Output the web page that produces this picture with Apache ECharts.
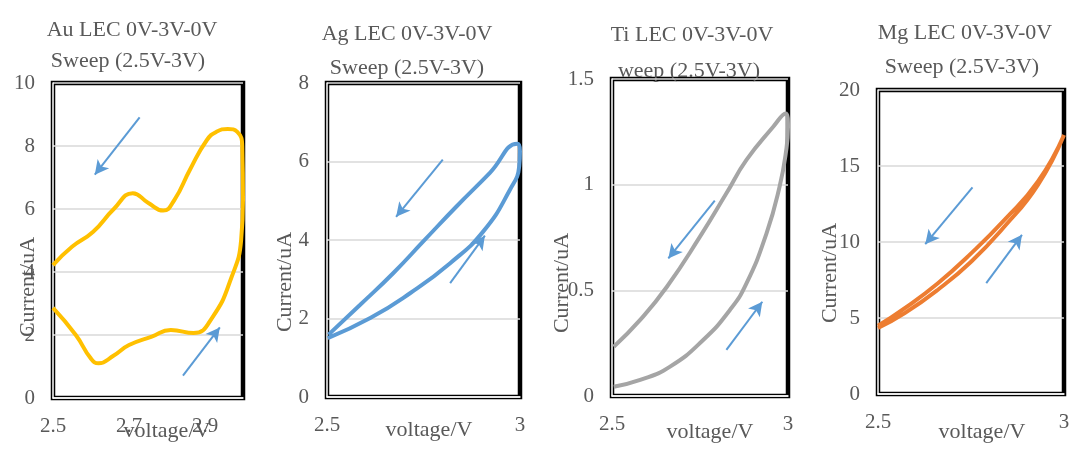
<!DOCTYPE html>
<html>
<head>
<meta charset="utf-8">
<script src="https://cdn.jsdelivr.net/npm/echarts@6/dist/echarts.min.js"></script>
<style>
  html, body { margin: 0; padding: 0; background: #fff; }
  #main { width: 1073px; height: 451px; }
</style>
</head>
<body>
<div id="main"></div>
<script>
// forward sweep (lower branch) then reverse sweep (upper branch)
var auVoltage = [2.50, 2.56, 2.60, 2.62, 2.66, 2.70, 2.76, 2.81, 2.87, 2.92, 2.97, 2.995, 3.00, 2.998, 2.985, 2.96, 2.93, 2.905, 2.86, 2.82, 2.79, 2.75, 2.71, 2.66, 2.605, 2.55, 2.50];
var auCurrent = [2.86, 2.00, 1.25, 1.10, 1.35, 1.68, 1.95, 2.16, 2.06, 2.57, 3.84, 5.00, 6.30, 8.00, 8.45, 8.54, 8.45, 8.19, 7.24, 6.30, 5.95, 6.20, 6.50, 6.00, 5.27, 4.80, 4.22];

var agVoltage = [2.502, 2.612, 2.716, 2.819, 2.905, 2.974, 2.998, 3.00, 2.993, 2.922, 2.836, 2.75, 2.672, 2.586, 2.504];
var agCurrent = [1.50, 2.01, 2.65, 3.41, 4.22, 5.28, 5.88, 6.26, 6.45, 5.71, 4.86, 3.97, 3.16, 2.35, 1.59];

var tiVoltage = [2.505, 2.58, 2.665, 2.759, 2.835, 2.882, 2.939, 2.976, 2.995, 3.00, 2.993, 2.958, 2.882, 2.825, 2.75, 2.656, 2.58, 2.505];
var tiCurrent = [0.044, 0.076, 0.139, 0.265, 0.407, 0.533, 0.77, 0.99, 1.164, 1.274, 1.337, 1.274, 1.117, 0.959, 0.754, 0.517, 0.36, 0.233];

var mgVoltage = [2.50, 2.572, 2.661, 2.751, 2.840, 2.930, 3.00, 2.93, 2.84, 2.751, 2.661, 2.572, 2.50];
var mgCurrent = [4.34, 5.32, 6.86, 8.72, 11.02, 13.76, 17.04, 13.98, 11.46, 9.27, 7.29, 5.65, 4.49];

// sweep direction arrows: [x0, y0, x1(tip), y1(tip)]
var auArrows = [[2.728, 8.91, 2.61, 7.09], [2.842, 0.71, 2.939, 2.24]];
var agArrows = [[2.80, 6.05, 2.679, 4.59], [2.819, 2.90, 2.909, 4.11]];
var tiArrows = [[2.792, 0.924, 2.66, 0.651], [2.825, 0.218, 2.927, 0.446]];
var mgArrows = [[2.754, 13.6, 2.627, 9.86], [2.791, 7.29, 2.887, 10.47]];

var titles = [
    ['Au LEC 0V-3V-0V', 'Sweep (2.5V-3V)'],
    ['Ag LEC 0V-3V-0V', 'Sweep (2.5V-3V)'],
    ['Ti LEC 0V-3V-0V', 'weep (2.5V-3V)'],
    ['Mg LEC 0V-3V-0V', 'Sweep (2.5V-3V)']
];
var auXTicks = ['2.5', '2.7', '2.9'];
var yMax = [10, 8, 1.5, 20];
var yStep = [2, 2, 0.5, 5];
var colors = ['#FFC000', '#5B9BD5', '#A5A5A5', '#ED7D31'];

var FONT = "'Liberation Serif', 'DejaVu Serif', serif";
var GRAY = '#595959';

var panels = [
    {v: auVoltage, c: auCurrent, a: auArrows, grid: {left: 53, top: 83, width: 190, height: 315},
     t1: [132, 30], t2: [128, 61], xn: [167, 431], yn: [28, 287]},
    {v: agVoltage, c: agCurrent, a: agArrows, grid: {left: 327, top: 83, width: 193, height: 314},
     t1: [407, 34], t2: [407, 68], xn: [429, 430], yn: [285, 282]},
    {v: tiVoltage, c: tiCurrent, a: tiArrows, grid: {left: 612, top: 79, width: 176, height: 317},
     t1: [692, 35], t2: [689, 71], xn: [710, 432], yn: [562, 283]},
    {v: mgVoltage, c: mgCurrent, a: mgArrows, grid: {left: 878, top: 90, width: 186, height: 304},
     t1: [965, 33], t2: [962, 67], xn: [982, 432], yn: [830, 273]}
];

function init() {
    var myChart = echarts.init(document.getElementById('main'));
    var grids = [], xAxes = [], yAxes = [], series = [], graphics = [];

    panels.forEach(function (p, i) {
        grids.push({
            left: p.grid.left, top: p.grid.top, width: p.grid.width, height: p.grid.height,
            show: true, borderColor: '#000', borderWidth: 4.5, backgroundColor: '#fff'
        });
        xAxes.push({
            type: 'value', gridIndex: i, min: 2.5, max: 3,
            interval: i === 0 ? 0.1 : 0.5,
            axisLine: {show: true, onZero: false, lineStyle: {color: '#fff', width: 1.5}},
            axisTick: {show: false},
            splitLine: {show: false},
            axisLabel: {
                color: GRAY, fontFamily: FONT, fontSize: 21, margin: 18,
                showMaxLabel: true,
                formatter: function (val) {
                    var s = (Math.round(val * 10) / 10).toString();
                    if (i === 0) return auXTicks.indexOf(s) >= 0 ? s : '';
                    return s;
                }
            }
        });
        yAxes.push({
            type: 'value', gridIndex: i, min: 0, max: yMax[i], interval: yStep[i],
            axisLine: {show: true, onZero: false, lineStyle: {color: '#fff', width: 1.5}},
            axisTick: {show: false},
            splitLine: {show: true, lineStyle: {color: '#d9d9d9', width: 1.5}},
            axisLabel: {color: GRAY, fontFamily: FONT, fontSize: 21, margin: 18}
        });
        series.push({
            type: 'line', xAxisIndex: i, yAxisIndex: i,
            data: p.v.map(function (x, k) { return [x, p.c[k]]; }),
            smooth: 0.5, showSymbol: false, symbol: 'none',
            lineStyle: {color: colors[i], width: 4},
            animation: false, silent: true, z: 3,
            markLine: {
                silent: true, animation: false,
                symbol: ['none', 'arrow'], symbolSize: [11, 14],
                label: {show: false},
                lineStyle: {color: '#5B9BD5', width: 2, type: 'solid'},
                emphasis: {disabled: true},
                data: p.a.map(function (r) {
                    return [{coord: [r[0], r[1]]}, {coord: [r[2], r[3]]}];
                })
            }
        });
        graphics.push(
            {type: 'text', x: p.t1[0], y: p.t1[1], z: 0,
             style: {text: titles[i][0], fill: GRAY, font: '22px ' + FONT, align: 'center', verticalAlign: 'middle'}},
            {type: 'text', x: p.t2[0], y: p.t2[1], z: 0,
             style: {text: titles[i][1], fill: GRAY, font: '22px ' + FONT, align: 'center', verticalAlign: 'middle'}},
            {type: 'text', x: p.xn[0], y: p.xn[1], z: 100,
             style: {text: 'voltage/V', fill: GRAY, font: '22px ' + FONT, align: 'center', verticalAlign: 'middle'}},
            {type: 'text', x: p.yn[0], y: p.yn[1], rotation: Math.PI / 2, z: 100,
             style: {text: 'Current/uA', fill: GRAY, font: '22px ' + FONT, align: 'center', verticalAlign: 'middle'}}
        );
    });

    var option = {
        backgroundColor: '#fff',
        animation: false,
        grid: grids,
        xAxis: xAxes,
        yAxis: yAxes,
        series: series,
        graphic: graphics
    };
    myChart.setOption(option);
}

init();
</script>
</body>
</html>
